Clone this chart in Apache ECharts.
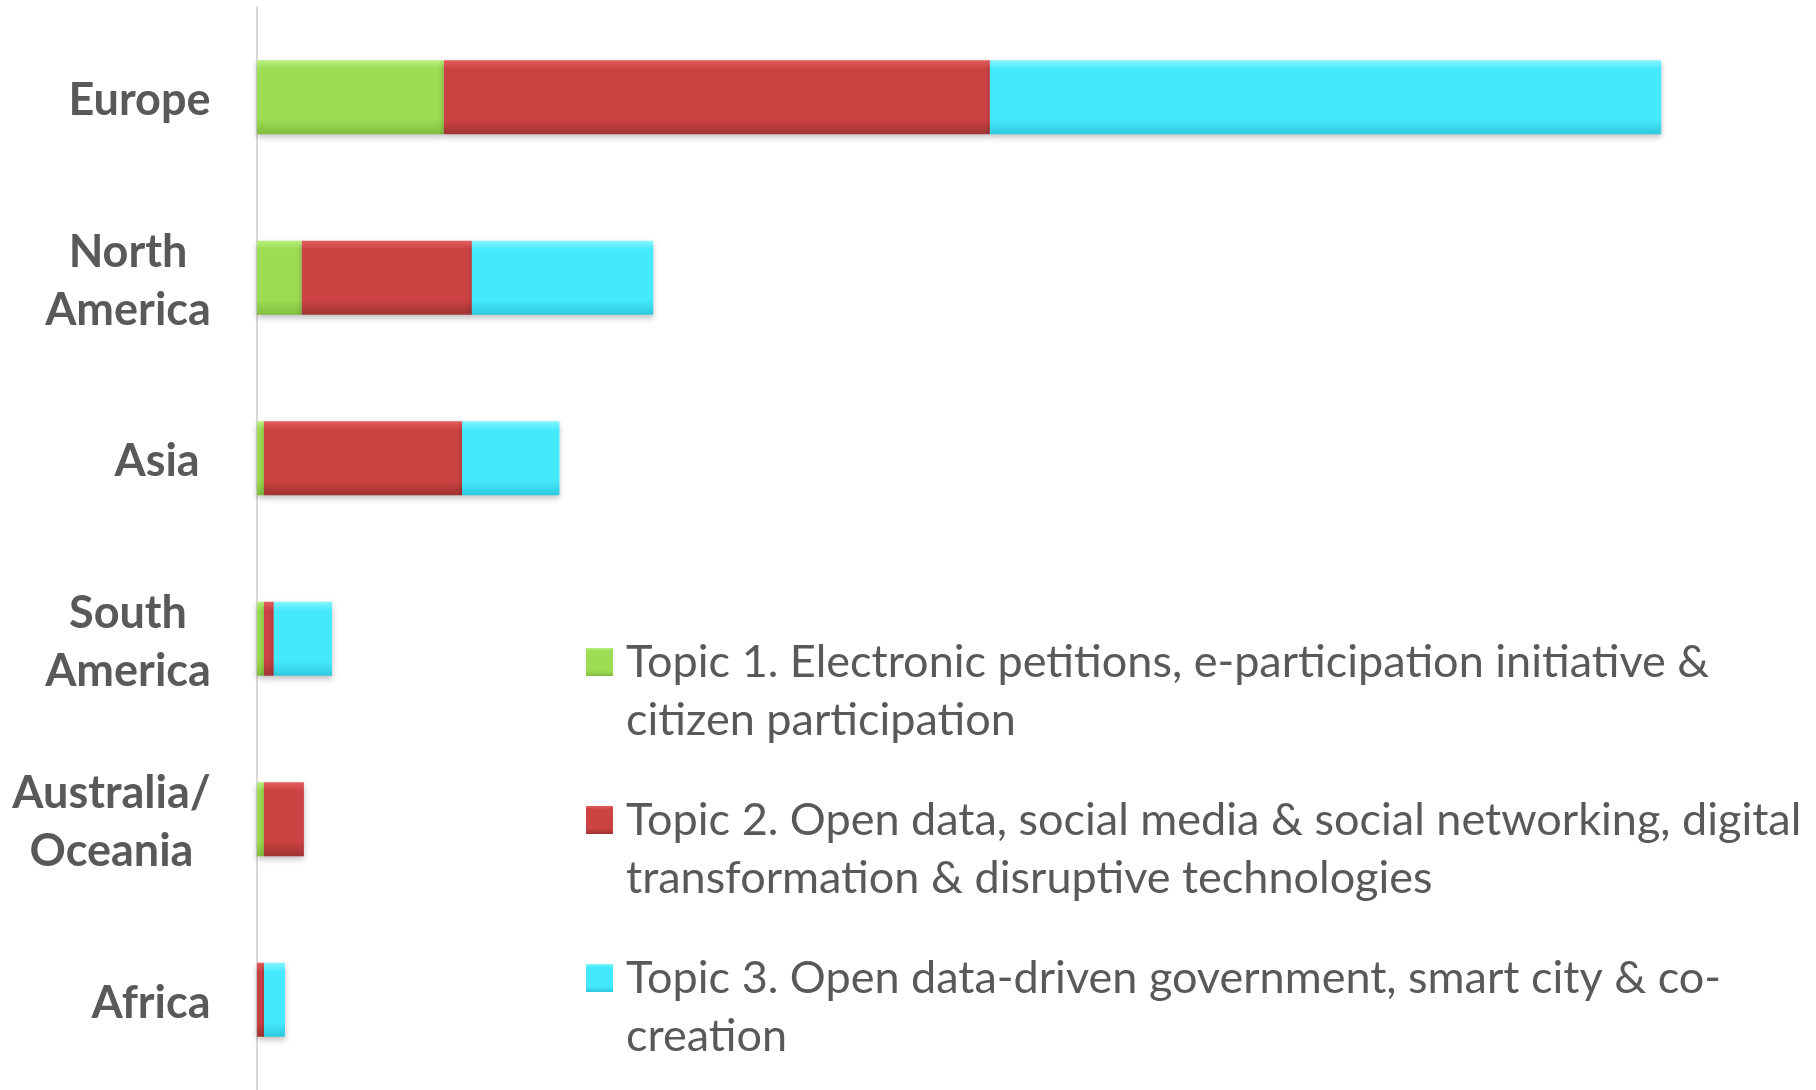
<!DOCTYPE html>
<html>
<head>
<meta charset="utf-8">
<script src="https://cdn.jsdelivr.net/npm/echarts@6/dist/echarts.min.js"></script>
<style>
  html, body { margin: 0; padding: 0; background: #fff; }
  #container { width: 1816px; height: 1090px; }
</style>
</head>
<body>
<div id="container"></div>
<script>
// regions, top to bottom
const regions = ['Europe', 'North\nAmerica', 'Asia ', 'South\nAmerica', 'Australia/\nOceania', 'Africa'];

// bar lengths per topic
const topic1 = [26.7, 6.4, 1.0, 1.0, 1.0, 0];
const topic2 = [78.0, 24.3, 28.3, 1.4, 5.7, 1.0];
const topic3 = [95.9, 25.9, 13.9, 8.3, 0, 3.0];

const topicNames = [
  'Topic 1. Electronic petitions, e-participation initiative & citizen participation',
  'Topic 2. Open data, social media & social networking, digital transformation & disruptive technologies',
  'Topic 3. Open data-driven government, smart city & co-creation'
];
const legendLabels = [
  'Topic 1. Electronic petitions, e-participation initiative &\ncitizen participation',
  'Topic 2. Open data, social media & social networking, digital\ntransformation & disruptive technologies',
  'Topic 3. Open data-driven government, smart city & co-\ncreation'
];

const textColor = '#595959';
const labelSize = 45;

function grad(top, mid, bottom) {
  return new echarts.graphic.LinearGradient(0, 0, 0, 1, [
    { offset: 0, color: top },
    { offset: 0.12, color: mid },
    { offset: 0.8, color: mid },
    { offset: 1, color: bottom }
  ]);
}
const colors = [
  grad('#b9f07e', '#9ddc55', '#82bd3e'),
  grad('#e45d5d', '#cc4242', '#a13434'),
  grad('#85f5ff', '#45e9fe', '#2ec9dd')
];

// multi-line labels: lines centred inside a box as wide as the longest line
const ctx = document.createElement('canvas').getContext('2d');
ctx.font = 'bold ' + labelSize + 'px Lato';
const rich = {};
regions.forEach((r, i) => {
  const w = Math.max(...r.split('\n').map(s => ctx.measureText(s).width));
  rich['c' + i] = {
    width: Math.ceil(w), align: 'center', lineHeight: 58,
    fontFamily: 'Lato', fontWeight: 'bold', fontSize: labelSize, color: textColor
  };
});

const dom = document.getElementById('container');
const myChart = echarts.init(dom, null, { renderer: 'canvas' });

const series = [topic1, topic2, topic3].map((d, i) => ({
  name: topicNames[i],
  type: 'bar',
  stack: 'total',
  barWidth: 74,
  data: d,
  itemStyle: {
    color: colors[i],
    shadowBlur: 6,
    shadowColor: 'rgba(0,0,0,0.25)',
    shadowOffsetY: 3
  },
  emphasis: { disabled: true }
}));

const option = {
  animation: false,
  backgroundColor: '#fff',
  grid: { left: 257, right: 89, top: 7, height: 1088 },
  xAxis: { type: 'value', min: 0, max: 210, show: false },
  yAxis: {
    type: 'category',
    inverse: true,
    data: regions,
    axisLine: { show: true, lineStyle: { color: '#d9d9d9', width: 2 } },
    axisTick: { show: false },
    axisLabel: {
      margin: 46,
      align: 'right',
      padding: [7, 0, 0, 0],
      formatter: (value, idx) => value.split('\n').map(s => '{c' + idx + '|' + s + '}').join('\n'),
      rich: rich
    }
  },
  legend: {
    orient: 'vertical',
    left: 586,
    top: 575,
    padding: 0,
    itemGap: -16,
    itemWidth: 27,
    itemHeight: 28,
    icon: 'rect',
    selectedMode: false,
    // blank first line keeps the marker level with the first text line
    formatter: name => '\n' + legendLabels[topicNames.indexOf(name)],
    textStyle: {
      fontFamily: 'Lato',
      fontSize: 45,
      color: textColor,
      lineHeight: 58,
      padding: [0, 0, 0, 8]
    }
  },
  series: series
};

myChart.setOption(option);
</script>
</body>
</html>
